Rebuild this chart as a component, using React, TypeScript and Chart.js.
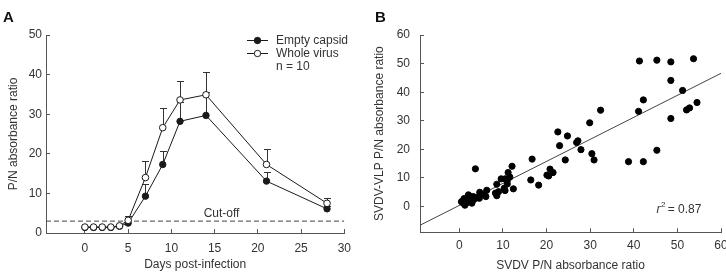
import React, { useEffect, useRef } from "react";
import { Chart, registerables } from "chart.js";

Chart.register(...registerables);

// ---- Panel A: antibody response over time ----
const days = [0, 1, 2, 3, 4, 5, 7, 9, 11, 14, 21, 28];
const emptyCapsid = [1.4, 1.4, 1.4, 1.4, 1.7, 2.5, 9.3, 17.3, 28.2, 29.7, 13.1, 6.1];
const emptyCapsidUpper = [null, null, null, null, null, 3.2, 12.3, 20.7, 33.0, 35.5, 15.3, 6.8];
const wholeVirus = [1.5, 1.5, 1.5, 1.5, 1.8, 3.2, 14.0, 26.6, 33.6, 34.9, 17.3, 7.5];
const wholeVirusUpper = [null, null, null, null, null, 4.2, 18.3, 31.5, 38.3, 40.6, 21.2, 8.9];
const cutOff = 3;
const dayTicks = [0, 5, 10, 15, 20, 25, 30];
const ratioTicksA = [0, 10, 20, 30, 40, 50];
const legendLabels = ["Empty capsid", "Whole virus", "n = 10"];

// ---- Panel B: SVDV vs SVDV-VLP correlation ----
const svdv = [
  41.3, 45.3, 48.5, 53.7, 48.5, 51.2, 42.2, 41.1, 54.5, 52.8, 52.1, 48.5,
  32.4, 29.9, 22.6, 24.8, 27.2, 26.9, 23.0, 27.9, 30.4, 30.9, 24.3, 38.8,
  42.2, 45.3, 16.7, 12.1, 11.2, 20.8, 21.5, 20.1, 20.5, 16.4, 18.2, 12.4,
  9.6, 10.5, 11.0, 8.6, 10.5, 10.3, 9.0, 8.6, 8.3, 3.7, 6.3, 6.1,
  4.7, 4.6, 3.2, 2.4, 2.1, 2.8, 1.7, 0.9, 0.9, 1.3, 0.5, 1.8,
  2.3, 3.2, 5.5, 11.0, 1.5, 2.6, 3.6, 1.1, 4.0, 2.9, 11.6,
];
const svdvVlp = [
  50.9, 51.2, 50.6, 51.7, 44.1, 40.6, 37.3, 33.3, 36.4, 34.5, 33.8, 30.8,
  33.7, 29.3, 26.1, 24.7, 23.0, 22.4, 21.3, 19.9, 18.5, 16.3, 16.3, 15.7,
  15.7, 19.7, 16.6, 14.1, 11.9, 13.1, 11.9, 11.0, 10.7, 9.3, 7.5, 6.2,
  9.7, 9.7, 7.9, 7.8, 5.6, 6.4, 5.2, 3.8, 4.7, 13.2, 5.7, 3.5,
  5.0, 2.9, 3.5, 3.5, 4.1, 1.6, 2.0, 1.2, 2.1, 0.5, 1.7, 2.6,
  2.6, 2.3, 4.3, 9.0, 1.0, 3.0, 2.8, 2.8, 3.2, 1.2, 10.3,
];
const fitSlope = 0.77;
const fitIntercept = 0.4;
const fitRange = [-9, 60];
const rSquared = "0.87";
const svdvTicks = [0, 10, 20, 30, 40, 50, 60];
const vlpTicks = [0, 10, 20, 30, 40, 50, 60];

const FONT = "'Liberation Sans', Arial, Helvetica, sans-serif";
const TEXT = "#333333";
const AXIS = "#555555";
const MARK = "#1a1a1a";

const errorBarPlugin = {
  id: "errorBars",
  beforeDatasetsDraw(chart: any) {
    const { ctx } = chart;
    const x = chart.scales.x;
    const y = chart.scales.y;
    ctx.save();
    ctx.strokeStyle = "#333";
    ctx.lineWidth = 1;
    chart.data.datasets.forEach((ds: any) => {
      if (!ds.upper) return;
      ds.data.forEach((pt: any, i: number) => {
        const up = ds.upper[i];
        if (up == null) return;
        const px = Math.round(x.getPixelForValue(pt.x)) + 0.5;
        const py = y.getPixelForValue(pt.y);
        const pu = Math.round(y.getPixelForValue(up)) + 0.5;
        ctx.beginPath();
        ctx.moveTo(px, py);
        ctx.lineTo(px, pu);
        ctx.moveTo(px - 3.5, pu);
        ctx.lineTo(px + 3.5, pu);
        ctx.stroke();
      });
    });
    ctx.restore();
  },
};

const panelAnnotations = {
  id: "panelAnnotations",
  afterDraw(chart: any) {
    const { ctx } = chart;
    const x = chart.scales.x;
    const y = chart.scales.y;
    ctx.save();
    // panel letter
    ctx.fillStyle = "#111";
    ctx.font = `bold 15px ${FONT}`;
    ctx.textBaseline = "middle";
    ctx.textAlign = "left";
    ctx.fillText("A", 3, 18);

    // cut-off label
    ctx.fillStyle = TEXT;
    ctx.font = `12px ${FONT}`;
    ctx.textAlign = "center";
    ctx.textBaseline = "alphabetic";
    ctx.fillText("Cut-off", x.getPixelForValue(15.8), y.getPixelForValue(cutOff) - 4);

    // legend
    const rows = [40, 53, 66];
    const lx0 = 247;
    const lx1 = 268;
    const mx = 257.5;
    ctx.textAlign = "left";
    ctx.textBaseline = "middle";
    for (let i = 0; i < 2; i++) {
      const ry = rows[i] + 0.5;
      ctx.strokeStyle = MARK;
      ctx.lineWidth = 1;
      ctx.beginPath();
      ctx.moveTo(lx0, ry);
      ctx.lineTo(lx1, ry);
      ctx.stroke();
      ctx.beginPath();
      ctx.arc(mx, ry, 3.2, 0, Math.PI * 2);
      ctx.fillStyle = i === 0 ? MARK : "#fff";
      ctx.fill();
      ctx.stroke();
    }
    ctx.fillStyle = TEXT;
    legendLabels.forEach((t, i) => ctx.fillText(t, 276, rows[i] + 1));
    ctx.restore();
  },
};

const panelBAnnotations = {
  id: "panelBAnnotations",
  afterDraw(chart: any) {
    const { ctx } = chart;
    ctx.save();
    ctx.fillStyle = "#111";
    ctx.font = `bold 15px ${FONT}`;
    ctx.textBaseline = "middle";
    ctx.textAlign = "left";
    ctx.fillText("B", 12, 18);

    const x = chart.scales.x;
    const y = chart.scales.y;
    const bx = x.getPixelForValue(45.2);
    const by = y.getPixelForValue(-1.2);
    ctx.fillStyle = TEXT;
    ctx.font = `italic 12px ${FONT}`;
    ctx.textBaseline = "middle";
    ctx.fillText("r", bx, by);
    const rw = ctx.measureText("r").width;
    ctx.font = `8px ${FONT}`;
    ctx.fillText("2", bx + rw + 0.5, by - 5);
    ctx.font = `12px ${FONT}`;
    ctx.fillText(" = " + rSquared, bx + rw + 4, by);
    ctx.restore();
  },
};

function axisCommon(tickPad: number) {
  return {
    grid: { drawOnChartArea: false, drawTicks: true, tickLength: -4, color: AXIS, tickColor: AXIS },
    border: { color: AXIS, width: 1 },
    ticks: { color: TEXT, font: { family: FONT, size: 12 }, padding: tickPad, maxRotation: 0, autoSkip: false },
  };
}

export default function App() {
  const refA = useRef<HTMLCanvasElement>(null);
  const refB = useRef<HTMLCanvasElement>(null);

  useEffect(() => {
    document.body.style.margin = "0";
    const toPts = (ys: number[]) => days.map((d, i) => ({ x: d, y: ys[i] }));

    const chartA = new Chart(refA.current!, {
      type: "line",
      data: {
        datasets: [
          {
            label: "Whole virus",
            data: toPts(wholeVirus),
            upper: wholeVirusUpper,
            borderColor: MARK,
            borderWidth: 1,
            backgroundColor: "#fff",
            pointBackgroundColor: "#fff",
            pointBorderColor: MARK,
            pointBorderWidth: 1,
            pointRadius: 3.3,
            tension: 0,
          } as any,
          {
            label: "Empty capsid",
            data: toPts(emptyCapsid),
            upper: emptyCapsidUpper,
            borderColor: MARK,
            borderWidth: 1,
            backgroundColor: MARK,
            pointBackgroundColor: MARK,
            pointBorderColor: MARK,
            pointRadius: 3.2,
            tension: 0,
          } as any,
          {
            label: "Cut-off",
            data: [
              { x: -4.5, y: cutOff },
              { x: 30, y: cutOff },
            ],
            borderColor: "#444",
            borderWidth: 1,
            borderDash: [5, 3],
            pointRadius: 0,
          },
        ],
      },
      options: {
        animation: false,
        responsive: false,
        layout: { padding: { top: 35, right: 15, left: 0, bottom: 0 } },
        plugins: { legend: { display: false }, tooltip: { enabled: false } },
        scales: {
          x: {
            type: "linear",
            min: -4.5,
            max: 30,
            afterBuildTicks: (s: any) => {
              s.ticks = dayTicks.map((v) => ({ value: v }));
            },
            afterFit: (s: any) => {
              s.height = 40;
            },
            ...axisCommon(12),
            title: {
              display: true,
              text: "Days post-infection",
              color: TEXT,
              font: { family: FONT, size: 12, lineHeight: 1.2 },
              padding: { top: 0, bottom: 1 },
            },
          },
          y: {
            type: "linear",
            min: 0,
            max: 50,
            afterBuildTicks: (s: any) => {
              s.ticks = ratioTicksA.map((v) => ({ value: v }));
            },
            afterFit: (s: any) => {
              s.width = 46;
            },
            ...axisCommon(8),
            title: {
              display: true,
              text: "P/N absorbance ratio",
              color: TEXT,
              font: { family: FONT, size: 12, lineHeight: 1.2 },
              padding: { top: 6, bottom: 0 },
            },
          },
        },
      } as any,
      plugins: [errorBarPlugin, panelAnnotations],
    });

    const chartB = new Chart(refB.current!, {
      type: "scatter",
      data: {
        datasets: [
          {
            label: "Samples",
            data: svdv.map((v, i) => ({ x: v, y: svdvVlp[i] })),
            pointBackgroundColor: "#000",
            pointBorderColor: "#000",
            pointRadius: 3.1,
            showLine: false,
          },
          {
            label: "Fit",
            data: fitRange.map((v) => ({ x: v, y: fitSlope * v + fitIntercept })),
            showLine: true,
            borderColor: "#444",
            borderWidth: 1,
            pointRadius: 0,
          },
        ],
      },
      options: {
        animation: false,
        responsive: false,
        layout: { padding: { top: 35, right: 22, left: 0, bottom: 0 } },
        plugins: { legend: { display: false }, tooltip: { enabled: false } },
        scales: {
          x: {
            type: "linear",
            min: -9,
            max: 60,
            afterBuildTicks: (s: any) => {
              s.ticks = svdvTicks.map((v) => ({ value: v }));
            },
            afterFit: (s: any) => {
              s.height = 40.7;
            },
            ...axisCommon(10),
            title: {
              display: true,
              text: "SVDV P/N absorbance ratio",
              color: TEXT,
              font: { family: FONT, size: 12, lineHeight: 1.2 },
              padding: { top: 0, bottom: 0 },
            },
          },
          y: {
            type: "linear",
            min: -9,
            max: 60,
            afterBuildTicks: (s: any) => {
              s.ticks = vlpTicks.map((v) => ({ value: v }));
            },
            afterFit: (s: any) => {
              s.width = 57;
            },
            ...axisCommon(14),
            title: {
              display: true,
              text: "SVDV-VLP P/N absorbance ratio",
              color: TEXT,
              font: { family: FONT, size: 12, lineHeight: 1.2 },
              padding: { top: 9, bottom: 0 },
            },
          },
        },
      } as any,
      plugins: [panelBAnnotations],
    });

    return () => {
      chartA.destroy();
      chartB.destroy();
    };
  }, []);

  return (
    <div
      style={{
        position: "absolute",
        left: 0,
        top: 0,
        width: 726,
        height: 273,
        overflow: "hidden",
        background: "#fff",
      }}
    >
      <canvas ref={refA} width={363} height={273} style={{ position: "absolute", left: 0, top: 0 }} />
      <canvas ref={refB} width={380} height={273} style={{ position: "absolute", left: 363, top: 0 }} />
    </div>
  );
}
